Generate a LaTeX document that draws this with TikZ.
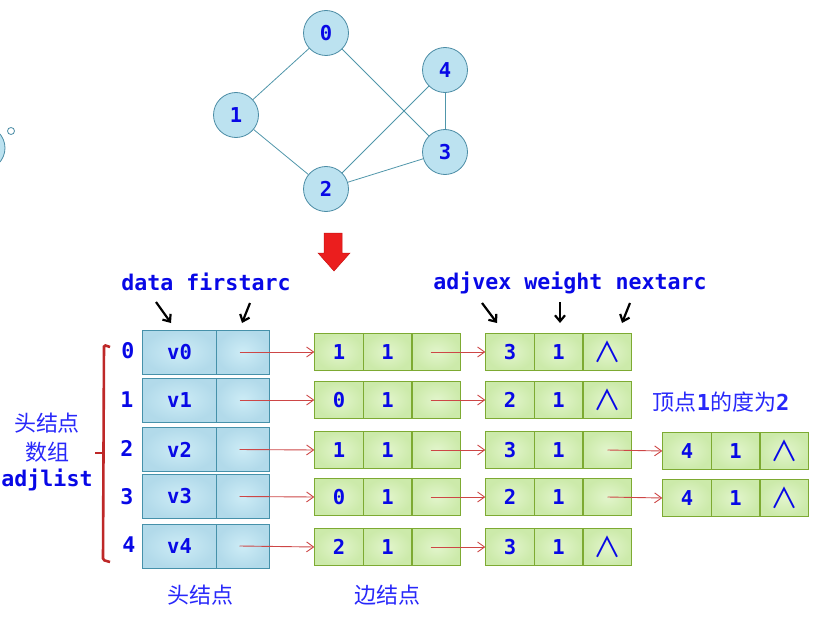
\documentclass[tikz,border=0pt]{standalone}
\usepackage{fontspec}
\setmainfont{DejaVu Sans}
\newfontfamily\mono{DejaVu Sans Mono}
\newfontfamily\cjk{Noto Sans CJK SC}
\usetikzlibrary{arrows.meta}
\definecolor{txtblue}{RGB}{8,8,230}
\definecolor{cjkblue}{RGB}{40,40,250}
\definecolor{hfill}{RGB}{190,226,240}
\definecolor{hin}{RGB}{205,236,246}
\definecolor{hout}{RGB}{178,218,234}
\definecolor{hdraw}{RGB}{70,145,170}
\definecolor{efill}{RGB}{214,240,184}
\definecolor{ein}{RGB}{226,245,204}
\definecolor{eout}{RGB}{204,234,170}
\definecolor{edraw}{RGB}{125,170,50}
\definecolor{gfill}{RGB}{188,226,240}
\definecolor{gdraw}{RGB}{75,140,165}
\definecolor{gedge}{RGB}{80,150,170}
\definecolor{arr}{RGB}{205,70,70}
\definecolor{brk}{RGB}{190,40,40}
\newcommand\nullsym{{\cjk\mdseries\fontsize{28}{28}\selectfont ∧}}
\tikzset{
  lbl/.style={font=\mono\bfseries\fontsize{21.6}{22}\selectfont, text=txtblue, inner sep=0pt},
  cjklbl/.style={font=\cjk\fontsize{22}{22}\selectfont, text=cjkblue, inner sep=0pt},
  gnode/.style={circle, draw=gdraw, fill=gfill, minimum size=45pt, inner sep=0pt, line width=0.8pt,
    font=\mono\bfseries\fontsize{20.5}{21}\selectfont, text=txtblue},
  hcell/.style={draw=hdraw, inner color=hin, outer color=hout, minimum height=44pt, inner sep=0pt, line width=0.8pt,
    font=\mono\bfseries\fontsize{20.5}{21}\selectfont, text=txtblue},
  ecell/.style={draw=edraw, inner color=ein, outer color=eout, minimum height=37pt, minimum width=48.5pt, inner sep=0pt, line width=0.9pt,
    font=\mono\bfseries\fontsize{20.5}{21}\selectfont, text=txtblue},
  redarr/.style={draw=arr, line width=0.9pt, -{Straight Barb[length=7pt,width=10pt]}},
  blackarr/.style={draw=black, line width=2.2pt, -{Straight Barb[length=6pt,width=10pt]}},
  gline/.style={draw=gedge, line width=0.8pt}
}
\begin{document}
\begin{tikzpicture}[x=1pt,y=-1pt]
\useasboundingbox (0,0) rectangle (831,618);
% left decorations
\fill[gfill, draw=gdraw, line width=0.8pt] (-17,148) circle (22);
\draw[gdraw, line width=0.8pt, fill=white] (11,131) circle (3.5);
% graph
\node[gnode] (g0) at (326,33) {0};
\node[gnode] (g1) at (236,115) {1};
\node[gnode] (g2) at (326,189) {2};
\node[gnode] (g3) at (445,152) {3};
\node[gnode] (g4) at (445,70) {4};
\draw[gline] (g0) -- (g1);
\draw[gline] (g0) -- (g3);
\draw[gline] (g1) -- (g2);
\draw[gline] (g2) -- (g4);
\draw[gline] (g2) -- (g3);
\draw[gline] (g3) -- (g4);
% big red arrow
\draw[fill={rgb,255:red,235;green,30;blue,30}, draw={rgb,255:red,200;green,20;blue,20}, line width=0.5pt]
  (324,233) -- (342,233) -- (342,253) -- (350,253) -- (334,271) -- (318,253) -- (324,253) -- cycle;
% field labels
\node[lbl] (ldf) at (206,282) {data firstarc};
\node[lbl] (lav) at (570,283) {adjvex weight nextarc};
\coordinate (ba1) at (156,302); \coordinate (bb1) at (171,323);
\coordinate (ba2) at (250,303); \coordinate (bb2) at (242,323);
\coordinate (ba3) at (482,303); \coordinate (bb3) at (497,323);
\coordinate (ba4) at (560,302); \coordinate (bb4) at (560,323);
\coordinate (ba5) at (630,303); \coordinate (bb5) at (622,323);
\foreach \i in {1,...,5} \draw[blackarr] (ba\i) -- (bb\i);
% head nodes
\foreach \i/\y in {0/352,1/400,2/449.5,3/496.5,4/546}{
  \node[hcell, minimum width=74pt] (d\i) at (179.5,\y) {v\i};
  \node[hcell, minimum width=53pt] (f\i) at (242.5,\y) {};
}
% index labels
\node[lbl] (i0) at (128,351) {0};
\node[lbl] (i1) at (127,400) {1};
\node[lbl] (i2) at (127,448) {2};
\node[lbl] (i3) at (127,497) {3};
\node[lbl] (i4) at (129,545) {4};
% bracket
\draw[brk, line width=2.6pt, rounded corners=1.5pt] (110,347) -- (104,345) -- (103,560) -- (110,562);
\draw[brk, line width=2.6pt] (103,453) -- (95,453);
% side labels
\node[cjklbl] (t1) at (47,423) {头结点};
\node[cjklbl] (t2) at (47,452) {数组};
\node[lbl] (t3) at (47,480) {adjlist};
\node[cjklbl] (t4) at (200,595) {头结点};
\node[cjklbl] (t5) at (387,595) {边结点};
\node[cjklbl] (t6) at (721,402) {顶点{\mono\bfseries 1}的度为{\mono\bfseries 2}};
% edge nodes
\foreach \r/\y/\pa/\pb/\qa/\qb in {0/352/1/1/3/1, 1/400/0/1/2/1, 2/450/1/1/3/1, 3/497/0/1/2/1, 4/547/2/1/3/1}{
  \node[ecell] (a\r) at (339,\y) {\pa};
  \node[ecell] (b\r) at (387.5,\y) {\pb};
  \node[ecell] (c\r) at (436.5,\y) {};
  \node[ecell] (p\r) at (510,\y) {\qa};
  \node[ecell] (q\r) at (558.5,\y) {\qb};
}
\node[ecell] (s0) at (607.5,352) {\nullsym};
\node[ecell] (s1) at (607.5,400) {\nullsym};
\node[ecell] (s2) at (607.5,450) {};
\node[ecell] (s3) at (607.5,497) {};
\node[ecell] (s4) at (607.5,547) {\nullsym};
\node[ecell] (x2) at (687,451) {4};
\node[ecell] (y2) at (735.5,451) {1};
\node[ecell] (z2) at (784.5,451) {\nullsym};
\node[ecell] (x3) at (687,498) {4};
\node[ecell] (y3) at (735.5,498) {1};
\node[ecell] (z3) at (784.5,498) {\nullsym};
% red arrows
\foreach \r in {0,...,4}{
  \draw[redarr] ([xshift=-3pt]f\r.center) -- (a\r.west);
  \draw[redarr] ([xshift=-6pt]c\r.center) -- (p\r.west);
}
\draw[redarr] (s2.center) -- (x2.west);
\draw[redarr] (s3.center) -- (x3.west);
\end{tikzpicture}
\end{document}
